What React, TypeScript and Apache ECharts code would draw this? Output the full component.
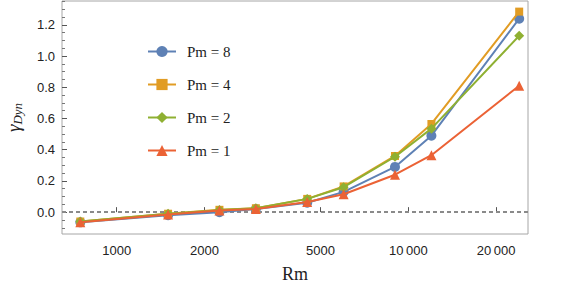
import React, { useEffect, useRef } from "react";
import * as echarts from "echarts";

const rm = [750, 1500, 2250, 3000, 4500, 6000, 9000, 12000, 24000];
const pm8 = [-0.065, -0.02, 0.0, 0.02, 0.06, 0.13, 0.29, 0.49, 1.24];
const pm4 = [-0.06, -0.01, 0.015, 0.025, 0.085, 0.165, 0.36, 0.565, 1.285];
const pm2 = [-0.06, -0.01, 0.013, 0.025, 0.085, 0.16, 0.355, 0.535, 1.13];
const pm1 = [-0.065, -0.015, 0.01, 0.02, 0.065, 0.115, 0.24, 0.365, 0.81];
const xTicks = [1000, 2000, 5000, 10000, 20000];
const yTicks = [0, 0.2, 0.4, 0.6, 0.8, 1.0, 1.2];
const yMinorTicks = [-0.1, -0.05, 0.05, 0.1, 0.15, 0.25, 0.3, 0.35, 0.45, 0.5, 0.55, 0.65, 0.7, 0.75, 0.85, 0.9, 0.95, 1.05, 1.1, 1.15, 1.25, 1.3, 1.35];

const seriesDefs = [
  { name: "Pm = 8", data: pm8, color: "#5E81B5", symbol: "circle", size: 10 },
  { name: "Pm = 4", data: pm4, color: "#E19C24", symbol: "rect", size: 8 },
  { name: "Pm = 2", data: pm2, color: "#8FB032", symbol: "diamond", size: 10 },
  { name: "Pm = 1", data: pm1, color: "#EB6235", symbol: "triangle", size: 10 },
];

function fmtX(v: number) {
  const n = Math.round(v);
  if (n >= 10000) {
    const s = String(n);
    return s.slice(0, s.length - 3) + "\u2009" + s.slice(s.length - 3);
  }
  return String(n);
}

export default function App() {
  const ref = useRef<HTMLDivElement>(null);
  useEffect(() => {
    if (!ref.current) return;
    const chart = echarts.init(ref.current, null, { renderer: "svg" });
    const series: any[] = seriesDefs.map((s, i) => ({
      type: "line",
      name: s.name,
      data: rm.map((x, j) => [x, s.data[j]]),
      symbol: s.symbol,
      symbolSize: s.size,
      showSymbol: true,
      itemStyle: { color: s.color },
      lineStyle: { color: s.color, width: 2 },
      z: 3 + i,
      markLine:
        i === 0
          ? {
              silent: true,
              symbol: "none",
              label: { show: false },
              lineStyle: { color: "#8a8a8a", type: [4, 3], width: 2 },
              data: [{ yAxis: 0 }],
              z: 1,
            }
          : undefined,
    }));
    chart.setOption({
      animation: false,
      backgroundColor: "#ffffff",
      grid: {
        left: 62,
        right: 53,
        top: 1,
        bottom: 53,
        show: true,
        borderColor: "#a6a6a6",
        borderWidth: 1,
        outerBoundsMode: "none",
        containLabel: false,
      },
      legend: {
        orient: "vertical",
        left: 142,
        top: 39,
        itemWidth: 28,
        itemHeight: 14,
        itemGap: 18,
        data: seriesDefs.map((s) => s.name),
        textStyle: {
          fontFamily: "Liberation Serif",
          fontSize: 15,
          color: "#222",
          padding: [0, 0, 0, 6],
        },
      },
      xAxis: {
        type: "log",
        logBase: 10,
        min: 649,
        max: 25730,
        name: "Rm",
        nameLocation: "middle",
        nameGap: 31,
        nameTextStyle: { fontFamily: "Liberation Serif", fontSize: 18, color: "#222" },
        axisLine: { show: false },
        splitLine: { show: false },
        axisTick: {
          show: true,
          inside: true,
          length: 5,
          customValues: xTicks,
          lineStyle: { color: "#555", width: 1 },
        },
        axisLabel: {
          customValues: xTicks,
          formatter: (v: number) => fmtX(v),
          fontFamily: "Liberation Sans",
          fontSize: 13,
          color: "#222",
          margin: 10,
        },
      },
      yAxis: [
        {
          type: "value",
          min: -0.14,
          max: 1.353,
          name: "{g|γ}{s|Dyn}",
          nameLocation: "middle",
          nameGap: 38,
          nameRotate: 90,
          nameTextStyle: {
            rich: {
              g: { fontFamily: "Liberation Serif", fontStyle: "italic", fontSize: 19, color: "#222" },
              s: { fontFamily: "Liberation Serif", fontStyle: "italic", fontSize: 13, color: "#222", padding: [9, 0, 0, 0] },
            },
          },
          axisLine: { show: false },
          splitLine: { show: false },
          axisTick: {
            show: true,
            inside: true,
            length: 5,
            customValues: yTicks,
            lineStyle: { color: "#555", width: 1 },
          },
          axisLabel: {
            customValues: yTicks,
            formatter: (v: number) => v.toFixed(1),
            fontFamily: "Liberation Sans",
            fontSize: 13,
            color: "#222",
            margin: 7,
          },
        },
        {
          type: "value",
          min: -0.14,
          max: 1.353,
          position: "left",
          axisLine: { show: false },
          splitLine: { show: false },
          axisLabel: { show: false },
          axisTick: {
            show: true,
            inside: true,
            length: 3,
            customValues: yMinorTicks,
            lineStyle: { color: "#777", width: 1 },
          },
        },
      ],
      series,
    });
    return () => chart.dispose();
  }, []);
  return <div ref={ref} style={{ width: 581, height: 287, position: "absolute", left: 0, top: 0 }} />;
}
